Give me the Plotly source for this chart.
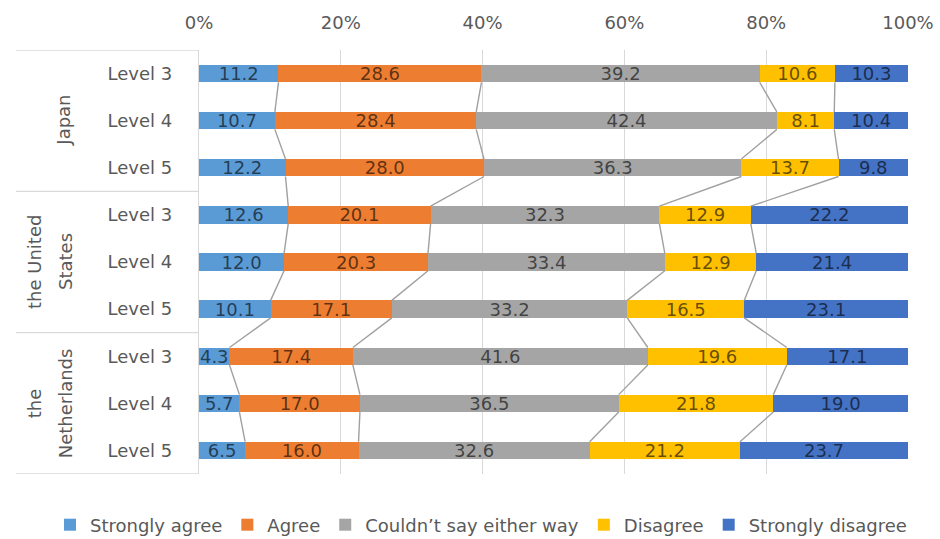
import plotly.graph_objects as go

# Survey rows, top to bottom
countries = ["Japan"] * 3 + ["the United States"] * 3 + ["the Netherlands"] * 3
levels = ["Level 3", "Level 4", "Level 5"] * 3

# Response shares (%) per row
strongly_agree = [11.2, 10.7, 12.2, 12.6, 12.0, 10.1, 4.3, 5.7, 6.5]
agree = [28.6, 28.4, 28.0, 20.1, 20.3, 17.1, 17.4, 17.0, 16.0]
neutral = [39.2, 42.4, 36.3, 32.3, 33.4, 33.2, 41.6, 36.5, 32.6]
disagree = [10.6, 8.1, 13.7, 12.9, 12.9, 16.5, 19.6, 21.8, 21.2]
strongly_disagree = [10.3, 10.4, 9.8, 22.2, 21.4, 23.1, 17.1, 19.0, 23.7]

series_names = ["Strongly agree", "Agree", "Couldn\u2019t say either way",
                "Disagree", "Strongly disagree"]
series_values = [strongly_agree, agree, neutral, disagree, strongly_disagree]
series_colors = ["#5B9BD5", "#ED7D31", "#A5A5A5", "#FFC000", "#4472C4"]

x_ticks = [0, 20, 40, 60, 80, 100]

FONT = "DejaVu Sans"
TXT = "#595959"
GRID = "#D9D9D9"
BAR_W = 0.37

rows = list(range(len(levels)))

fig = go.Figure()

for name, vals, col in zip(series_names, series_values, series_colors):
    fig.add_trace(go.Bar(
        y=rows, x=vals, name=name, orientation="h",
        marker=dict(color=col, line=dict(width=0)),
        width=BAR_W,
        text=[f"{v:.1f}" for v in vals], texttemplate="%{text}",
        textposition="inside", insidetextanchor="middle",
        textangle=0, constraintext="none",
        textfont=dict(family=FONT, size=18, color="rgba(0,0,0,0.62)"),
        hoverinfo="skip",
    ))

# Series lines joining the segment boundaries of neighbouring bars
totals = [sum(s[i] for s in series_values) for i in rows]
cum = []
for i in rows:
    acc, c = 0.0, []
    for s in series_values[:-1]:
        acc += s[i]
        c.append(acc / totals[i] * 100)
    cum.append(c)

h = BAR_W / 2
lx, ly = [], []
for i in rows[:-1]:
    for k in range(len(series_values) - 1):
        lx += [cum[i][k], cum[i + 1][k], None]
        ly += [i + h, i + 1 - h, None]
fig.add_trace(go.Scatter(x=lx, y=ly, mode="lines",
                         line=dict(color="#A0A0A0", width=1.4),
                         showlegend=False, hoverinfo="skip"))

# Group separators on the category axis
for yb in [-0.5, 2.5, 5.5, 8.5]:
    fig.add_shape(type="line", xref="paper", yref="y",
                  x0=(16 - 199) / 709, x1=0, y0=yb, y1=yb,
                  line=dict(color=GRID, width=1.3))

# Group labels (rotated)
def px(v):
    return (v - 199) / 709

group_labels = [("Japan", 64, 1), ("the United", 34, 4), ("States", 65, 4),
                ("the", 34, 7), ("Netherlands", 65, 7)]
for txt, xp, yc in group_labels:
    fig.add_annotation(text=txt, x=px(xp), y=yc, xref="paper", yref="y",
                       textangle=-90, showarrow=False,
                       xanchor="center", yanchor="middle",
                       font=dict(family=FONT, size=18, color=TXT))

fig.update_layout(
    barmode="stack", barnorm="percent",
    width=940, height=539,
    margin=dict(l=199, r=32, t=50, b=65, autoexpand=False),
    paper_bgcolor="white", plot_bgcolor="white",
    font=dict(family=FONT, size=18, color=TXT),
    legend=dict(orientation="h", x=px(50), xanchor="left",
                y=-51 / 424, yanchor="middle",
                itemwidth=30, tracegroupgap=0,
                font=dict(family=FONT, size=18, color=TXT),
                traceorder="normal"),
    xaxis=dict(range=[0, 100], side="top", tickvals=x_ticks,
               ticktext=[f"{t}%" for t in x_ticks],
               showgrid=True, gridcolor=GRID, gridwidth=1,
               zeroline=False, showline=False,
               ticklabelstandoff=16,
               tickfont=dict(family=FONT, size=18, color=TXT)),
    yaxis=dict(range=[8.5, -0.5], tickvals=rows, ticktext=levels,
               showgrid=False, zeroline=False,
               showline=True, linecolor=GRID, linewidth=1.3,
               ticklabelstandoff=22,
               tickfont=dict(family=FONT, size=18, color=TXT)),
)

fig.write_html("out.html")
